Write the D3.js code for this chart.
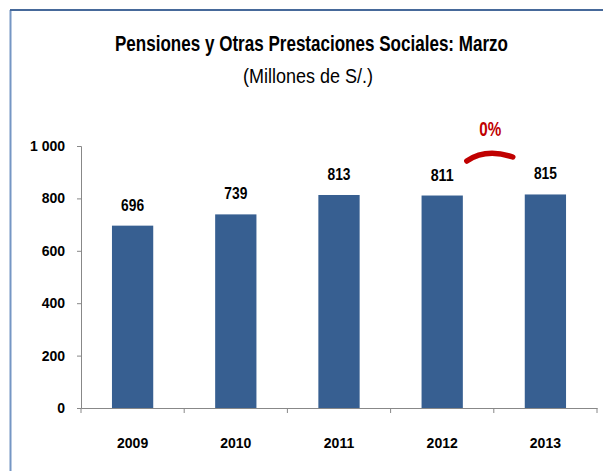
<!DOCTYPE html>
<html>
<head>
<meta charset="utf-8">
<script src="https://cdn.jsdelivr.net/npm/d3@7"></script>
<style>
  body { margin: 0; background: #fff; }
  text { font-family: "Liberation Sans", Arial, sans-serif; fill: #000; }
</style>
</head>
<body>
<div id="chart"></div>
<script>
// data
var years = ["2009", "2010", "2011", "2012", "2013"];
var values = [696, 739, 813, 811, 815];
var yTicks = [0, 200, 400, 600, 800, 1000];
var changeLabel = "0%";

var width = 603,
    height = 471;

var svg = d3.select("#chart").append("svg")
    .attr("width", width)
    .attr("height", height);

// outer frame (only left and top edges fall inside the picture)
svg.append("line")
    .attr("x1", 10.5).attr("x2", 10.5).attr("y1", 10).attr("y2", height)
    .attr("stroke", "#7596c4").attr("stroke-width", 2);
svg.append("line")
    .attr("x1", 10).attr("x2", width).attr("y1", 10).attr("y2", 10)
    .attr("stroke", "#46699a").attr("stroke-width", 2);

var x = d3.scaleBand()
    .domain(years)
    .range([81, 597])
    .paddingInner(0.6)
    .paddingOuter(0.3);

var y = d3.scaleLinear()
    .domain([0, 1000])
    .range([408, 146]);

// titles (narrow look via textLength)
svg.append("text")
    .attr("x", 311.5).attr("y", 51)
    .attr("text-anchor", "middle")
    .attr("textLength", 393).attr("lengthAdjust", "spacingAndGlyphs")
    .style("font-size", "21.5px").style("font-weight", "bold")
    .text("Pensiones y Otras Prestaciones Sociales: Marzo");

svg.append("text")
    .attr("x", 308).attr("y", 83)
    .attr("text-anchor", "middle")
    .attr("textLength", 130).attr("lengthAdjust", "spacingAndGlyphs")
    .style("font-size", "20px")
    .text("(Millones de S/.)");

// y axis
svg.append("g")
    .attr("transform", "translate(81,0)")
    .call(d3.axisLeft(y).tickValues(yTicks).tickSize(4).tickPadding(12)
      .tickFormat(function(d) { return d3.format(",")(d).replace(",", " "); }));

// x axis, ticks at category boundaries
var xAxis = svg.append("g")
    .attr("transform", "translate(0,408)")
    .call(d3.axisBottom(x).tickSize(0).tickPadding(30));

var step = x.step();
xAxis.selectAll(".bound")
    .data(d3.range(years.length + 1))
  .enter().append("line")
    .attr("class", "bound")
    .attr("x1", function(i) { return 81 + i * step; })
    .attr("x2", function(i) { return 81 + i * step; })
    .attr("y1", 0).attr("y2", 5);

svg.selectAll(".domain, .tick line, .bound")
    .attr("stroke", "#888");
svg.selectAll(".tick text")
    .style("font-size", "14px").style("font-weight", "bold")
    .style("font-family", "'Liberation Sans', Arial, sans-serif")
    .attr("fill", "#000");

// bars
svg.selectAll(".bar")
    .data(values)
  .enter().append("rect")
    .attr("class", "bar")
    .attr("x", function(d, i) { return x(years[i]); })
    .attr("y", function(d) { return y(d); })
    .attr("width", x.bandwidth())
    .attr("height", function(d) { return y(0) - y(d); })
    .attr("fill", "#375f91");

// value labels
svg.selectAll(".label")
    .data(values)
  .enter().append("text")
    .attr("class", "label")
    .attr("x", function(d, i) { return x(years[i]) + x.bandwidth() / 2; })
    .attr("y", function(d) { return y(d) - 15; })
    .attr("text-anchor", "middle")
    .attr("textLength", 23).attr("lengthAdjust", "spacingAndGlyphs")
    .style("font-size", "16px").style("font-weight", "bold")
    .text(function(d) { return d; });

// change marker between last two years
var cx = (x("2012") + x("2013") + x.bandwidth()) / 2;
svg.append("path")
    .attr("d", "M" + (cx - 27) + ",161Q" + (cx - 8) + ",148 " + (cx + 19) + ",157")
    .attr("fill", "none")
    .attr("stroke", "#c00000")
    .attr("stroke-width", 5.5)
    .attr("stroke-linecap", "round");

svg.append("text")
    .attr("x", cx - 3.5).attr("y", 136)
    .attr("text-anchor", "middle")
    .attr("textLength", 22).attr("lengthAdjust", "spacingAndGlyphs")
    .style("font-size", "21px").style("font-weight", "bold")
    .style("fill", "#c00000")
    .text(changeLabel);
</script>
</body>
</html>
